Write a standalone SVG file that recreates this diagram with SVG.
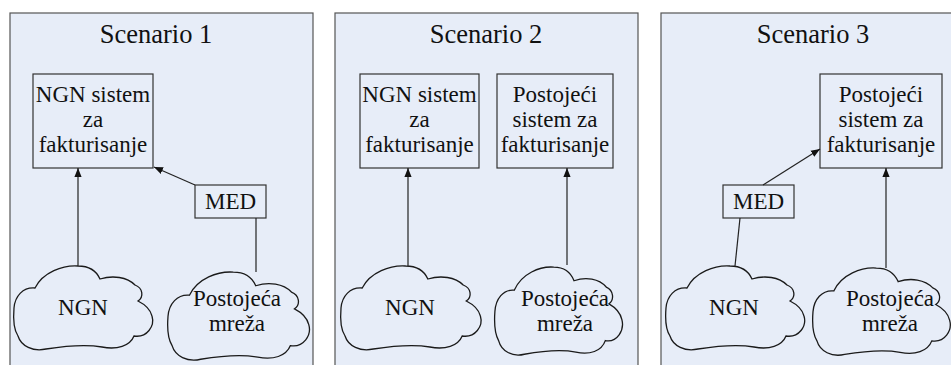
<svg xmlns="http://www.w3.org/2000/svg" xmlns:xlink="http://www.w3.org/1999/xlink" width="951" height="365" viewBox="0 0 951 365">
  <style>
    .panel { fill: #E7EDF8; stroke: #555555; stroke-width: 1.2; }
    .box { fill: none; stroke: #333333; stroke-width: 1.2; }
    .cloud { fill: none; stroke: #1a1a1a; stroke-width: 1.3; vector-effect: non-scaling-stroke; }
    text { font-family: 'Liberation Serif', 'DejaVu Serif', serif; fill: #111111; text-anchor: middle; }
    .title { font-size: 26.5px; }
    .label { font-size: 23px; }
    .conn { stroke: #222222; stroke-width: 1.2; fill: none; }
    .arrow { marker-end: url(#head); }
  </style>
  <defs>
    <marker id="head" viewBox="0 0 10 10" refX="10" refY="5" markerWidth="9" markerHeight="9" markerUnits="userSpaceOnUse" orient="auto">
      <path d="M0,1 L10,5 L0,9 Z" fill="#111111"/>
    </marker>
    <!-- cloud outline in a 140 x 88 local frame -->
    <path id="cloudShape" class="cloud" d="M65,2 C50,1 30,8 22,24 C10,23 2,32 1,44 C0,56 1,66 5,72 C8,82 20,88 33,85 C52,82 72,80 89,83 C104,86 117,82 121,72 C134,74 142,62 139,52 C137,44 131,40 125,37 C131,33 130,24 122,21 C114,13 100,11 87,15 C83,6 75,2 65,2 Z"/>
  </defs>

  <!-- Scenario 1 -->
  <g id="scenario1">
    <rect class="panel" x="10" y="13" width="303" height="360"/>
    <text class="title" x="156" y="43" font-family="Liberation Serif, serif">Scenario 1</text>
    <g id="s1-ngn-billing">
      <rect class="box" x="33" y="74" width="120" height="94"/>
      <text class="label" x="93" y="102">NGN sistem</text>
      <text class="label" x="93" y="127">za</text>
      <text class="label" x="93" y="152">fakturisanje</text>
    </g>
    <g id="s1-med">
      <rect class="box" x="195" y="185" width="71" height="33"/>
      <text class="label" x="230.5" y="209">MED</text>
    </g>
    <g id="s1-ngn">
      <use xlink:href="#cloudShape" transform="translate(13,264)"/>
      <text class="label" x="83" y="315">NGN</text>
    </g>
    <g id="s1-legacy-net">
      <use xlink:href="#cloudShape" transform="translate(167,270) scale(1.02,1.05)"/>
      <text class="label" x="237" y="306">Postojeća</text>
      <text class="label" x="237" y="331">mreža</text>
    </g>
  </g>

  <!-- Scenario 2 -->
  <g id="scenario2">
    <rect class="panel" x="335" y="13" width="303" height="360"/>
    <text class="title" x="486" y="43">Scenario 2</text>
    <g id="s2-ngn-billing">
      <rect class="box" x="360" y="74" width="119" height="94"/>
      <text class="label" x="419.5" y="102">NGN sistem</text>
      <text class="label" x="419.5" y="127">za</text>
      <text class="label" x="419.5" y="152">fakturisanje</text>
    </g>
    <g id="s2-legacy-billing">
      <rect class="box" x="497" y="74" width="116" height="94"/>
      <text class="label" x="555" y="102">Postojeći</text>
      <text class="label" x="555" y="127">sistem za</text>
      <text class="label" x="555" y="152">fakturisanje</text>
    </g>
    <g id="s2-ngn">
      <use xlink:href="#cloudShape" transform="translate(340,264) scale(1.01,1)"/>
      <text class="label" x="410" y="315">NGN</text>
    </g>
    <g id="s2-legacy-net">
      <use xlink:href="#cloudShape" transform="translate(494,265) scale(0.92,1.05)"/>
      <text class="label" x="565" y="306">Postojeća</text>
      <text class="label" x="565" y="331">mreža</text>
    </g>
  </g>

  <!-- Scenario 3 -->
  <g id="scenario3">
    <rect class="panel" x="661" y="13" width="303" height="360"/>
    <text class="title" x="813" y="43">Scenario 3</text>
    <g id="s3-legacy-billing">
      <rect class="box" x="820" y="74" width="122" height="94"/>
      <text class="label" x="881" y="102">Postojeći</text>
      <text class="label" x="881" y="127">sistem za</text>
      <text class="label" x="881" y="152">fakturisanje</text>
    </g>
    <g id="s3-med">
      <rect class="box" x="723" y="185" width="71" height="33"/>
      <text class="label" x="758.5" y="209">MED</text>
    </g>
    <g id="s3-ngn">
      <use xlink:href="#cloudShape" transform="translate(665,264)"/>
      <text class="label" x="734" y="315">NGN</text>
    </g>
    <g id="s3-legacy-net">
      <use xlink:href="#cloudShape" transform="translate(812,266) scale(0.99,1.04)"/>
      <text class="label" x="890" y="306">Postojeća</text>
      <text class="label" x="890" y="331">mreža</text>
    </g>
  </g>

  <!-- connectors -->
  <g id="connectors">
    <line class="conn arrow" x1="78" y1="266" x2="78" y2="168"/>
    <line class="conn arrow" x1="195" y1="185" x2="154" y2="167"/>
    <line class="conn" x1="256" y1="218" x2="256" y2="272"/>
    <line class="conn arrow" x1="408" y1="266" x2="408" y2="168"/>
    <line class="conn arrow" x1="567" y1="265" x2="567" y2="168"/>
    <line class="conn arrow" x1="763" y1="185" x2="820" y2="149"/>
    <line class="conn" x1="740" y1="218" x2="735" y2="266"/>
    <line class="conn arrow" x1="886" y1="268" x2="886" y2="168"/>
  </g>
</svg>
